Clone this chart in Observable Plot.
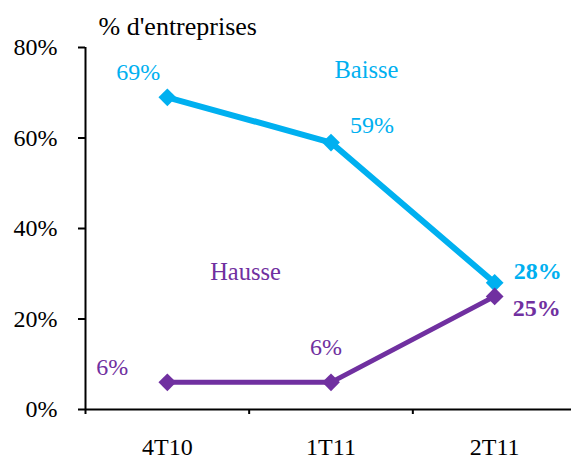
<!DOCTYPE html>
<html>
<head>
<meta charset="utf-8">
<script src="https://cdn.jsdelivr.net/npm/d3@7"></script>
<script src="https://cdn.jsdelivr.net/npm/@observablehq/plot@0.6"></script>
<style>
  html, body { margin: 0; padding: 0; background: #fff; }
</style>
</head>
<body>
<div id="chart"></div>
<script>
const categories = ["4T10", "1T11", "2T11"];
const baisse = [69, 59, 28];
const hausse = [6, 6, 25];
const yTicks = [0, 20, 40, 60, 80];
const yTitle = "% d'entreprises";
const seriesNames = ["Baisse", "Hausse"];

const cyan = "#00B0F0";
const purple = "#7030A0";
const serifFont = "Liberation Serif";

const dataB = categories.map((c, i) => ({i, cat: c, v: baisse[i]}));
const dataH = categories.map((c, i) => ({i, cat: c, v: hausse[i]}));
const fmt = d => d.v + "%";

const offB = [[-29, -25], [41, -17], [43, -11]];
const offH = [[-55, -15], [-5, -35], [42, 12]];
const boldLast = i => i === categories.length - 1 ? "bold" : "normal";

const labelMarks = (data, offs, color) => data.map((d, i) =>
  Plot.text([d], {x: "i", y: "v", text: fmt, dx: offs[i][0], dy: offs[i][1],
    fill: color, fontSize: 24, fontWeight: boldLast(i), fontFamily: serifFont}));

const chart = Plot.plot({
  width: 571,
  height: 459,
  marginLeft: 85,
  marginRight: 0,
  marginTop: 47,
  marginBottom: 50,
  style: {fontFamily: serifFont, fontSize: "24px", background: "#fff"},
  x: {domain: [-0.5, categories.length - 0.5], range: [85, 576]},
  y: {domain: [0, 80], range: [409, 47]},
  marks: [
    Plot.axisY({ticks: yTicks, tickFormat: d => d + "%", tickSize: 7, tickPadding: 21,
      fontSize: 24, fontFamily: serifFont, label: null, stroke: "#000", strokeWidth: 2}),
    Plot.axisX({ticks: d3.range(categories.length + 1).map(k => k - 0.5), tickSize: 5,
      tickFormat: () => "", label: null, stroke: "#000", strokeWidth: 2}),
    Plot.axisX({ticks: d3.range(categories.length), tickFormat: i => categories[i], tickSize: 0,
      tickPadding: 28, fontSize: 24, fontFamily: serifFont, label: null}),
    Plot.ruleY([0], {stroke: "#000", strokeWidth: 2}),
    Plot.ruleX([-0.5], {y1: 0, y2: 80, stroke: "#000", strokeWidth: 2}),
    Plot.line(dataB, {x: "i", y: "v", stroke: cyan, strokeWidth: 6}),
    Plot.dot(dataB, {x: "i", y: "v", symbol: "diamond2", r: 8, fill: cyan, stroke: null}),
    Plot.line(dataH, {x: "i", y: "v", stroke: purple, strokeWidth: 5}),
    Plot.dot(dataH, {x: "i", y: "v", symbol: "diamond2", r: 8, fill: purple, stroke: null}),
    ...labelMarks(dataB, offB, cyan),
    ...labelMarks(dataH, offH, purple),
    Plot.text([seriesNames[0]], {frameAnchor: "top-left", dx: 281, dy: 23, lineAnchor: "middle", text: d => d,
      fill: cyan, fontSize: 24.5, fontFamily: serifFont, textAnchor: "middle"}),
    Plot.text([seriesNames[1]], {frameAnchor: "top-left", dx: 160, dy: 225, lineAnchor: "middle", text: d => d,
      fill: purple, fontSize: 24.5, fontFamily: serifFont, textAnchor: "middle"}),
    Plot.text([yTitle], {frameAnchor: "top-left", dx: 13, dy: -21, lineAnchor: "middle", text: d => d,
      fill: "#000", fontSize: 26, fontFamily: serifFont, textAnchor: "start"})
  ]
});
d3.select(chart).selectAll("text")
  .attr("font-family", serifFont)
  .style("font-family", "'Liberation Serif', 'Times New Roman', serif");
document.getElementById("chart").appendChild(chart);
</script>
</body>
</html>
